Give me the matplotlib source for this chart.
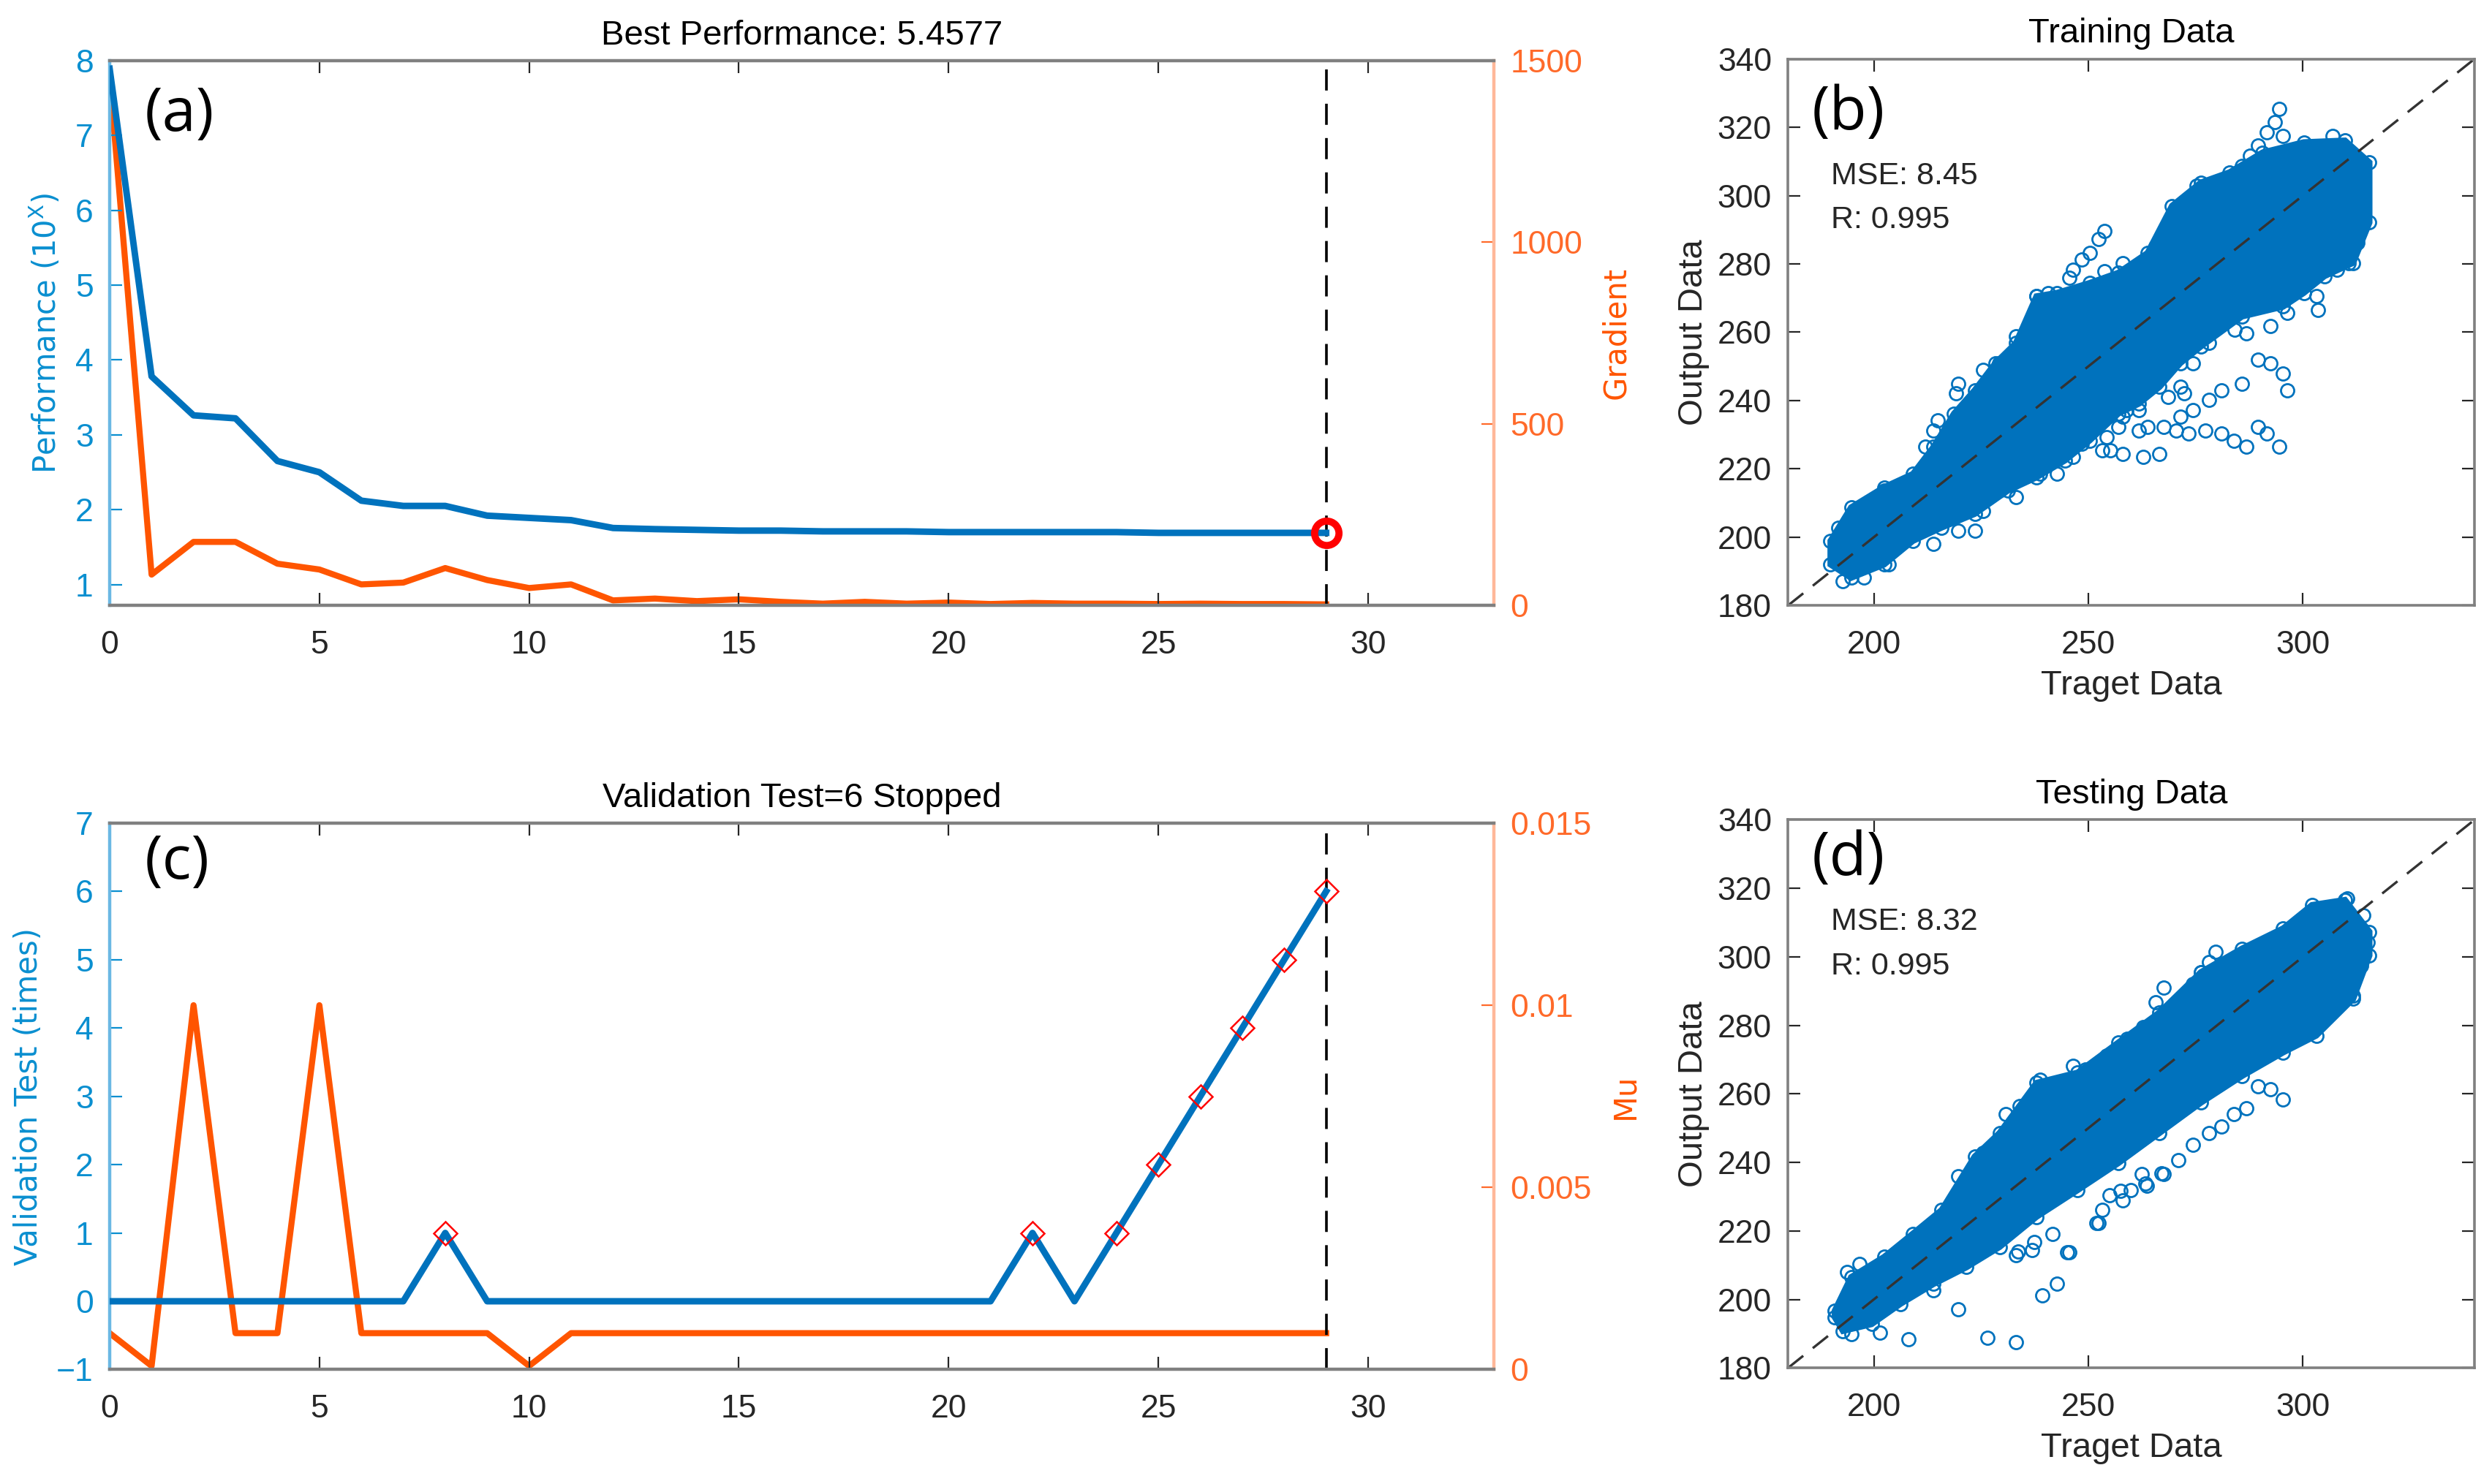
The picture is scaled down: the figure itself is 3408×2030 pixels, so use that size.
import matplotlib.pyplot as plt

plt.rcParams['font.family'] = ['Liberation Sans', 'DejaVu Sans']

# ---- (a) training performance ----
epochs = list(range(30))
perf = [7.89, 3.78, 3.26, 3.22, 2.65, 2.50, 2.12, 2.05, 2.05, 1.92,
        1.89, 1.86, 1.755, 1.74, 1.73, 1.72, 1.72, 1.71, 1.71, 1.71,
        1.70, 1.70, 1.70, 1.70, 1.70, 1.69, 1.69, 1.69, 1.69, 1.69]
grad = [1455, 85, 175, 175, 115, 99, 58, 63, 103, 70,
        48, 58, 14, 19, 12, 17, 10, 5, 10, 5,
        8, 4, 7, 5, 5, 4, 5, 4, 4, 3]
best_epoch = 29

# ---- (c) validation checks / mu ----
val_fail = [0, 0, 0, 0, 0, 0, 0, 0, 1, 0,
            0, 0, 0, 0, 0, 0, 0, 0, 0, 0,
            0, 0, 1, 0, 1, 2, 3, 4, 5, 6]
mu = [0.001, 0.0001, 0.01, 0.001, 0.001, 0.01, 0.001, 0.001, 0.001, 0.001,
      0.0001, 0.001, 0.001, 0.001, 0.001, 0.001, 0.001, 0.001, 0.001, 0.001,
      0.001, 0.001, 0.001, 0.001, 0.001, 0.001, 0.001, 0.001, 0.001, 0.001]
fail_epochs = [8, 22, 24, 25, 26, 27, 28, 29]

# ---- (b) training scatter: outline of the dense cloud + stray points ----
train_up_t = [189.9, 194.7, 202.4, 209.1, 213.9, 218.7, 223.5, 228.3, 233.1, 237.9, 242.7,
              250.3, 257.0, 263.8, 269.5, 276.2, 282.9, 290.6, 300.2, 309.8, 315.5]
train_up_o = [198.9, 208.7, 214.6, 218.5, 226.4, 236.2, 243.0, 250.9, 256.8, 270.5, 271.5,
              274.4, 277.4, 283.2, 297.0, 303.8, 306.8, 312.6, 315.6, 316.1, 309.7]
train_lo_t = [315.5, 311.7, 305.0, 300.2, 295.4, 285.8, 276.2, 271.4, 266.6, 261.8, 257.0,
              250.3, 244.6, 237.9, 231.2, 223.5, 215.8, 209.1, 202.4, 194.7, 189.9]
train_lo_o = [292.1, 280.3, 276.4, 271.5, 267.5, 264.6, 255.8, 250.9, 244.0, 239.1, 236.2,
              228.3, 222.5, 217.5, 213.6, 206.8, 202.8, 198.9, 192.0, 188.1, 192.0]
train_out_x = [294.4, 293.5, 291.6, 295.4, 289.6, 287.7, 285.8, 306.9,
               253.7, 252.3, 250.3, 248.4, 246.5, 245.5, 253.7, 258.0,
               275.3, 273.4, 271.4, 269.0, 265.7, 233.1, 229.2, 225.4, 219.7, 219.2,
               214.9, 213.9, 212.0, 202.4, 195.7, 191.8, 237.9, 240.7,
               313.6, 312.7, 310.7, 307.9, 303.1, 303.5, 296.4, 292.5, 286.8, 284.0,
               278.1, 274.3, 271.4, 268.6, 272.4, 261.8, 258.0, 254.2, 255.1, 248.4,
               246.5, 242.7, 238.8, 233.1, 229.2, 225.4, 223.5, 219.7, 213.9, 203.4,
               197.6, 192.8,
               289.6, 292.5, 295.4, 296.4, 285.8, 281.0, 278.1, 274.3, 271.4, 270.5,
               273.4, 277.2, 281.0, 283.9, 286.8, 289.6, 291.6, 294.5, 266.6, 262.8,
               258.0, 253.2, 261.8, 257.0, 258.9, 263.8, 267.6]
train_out_y = [325.4, 321.5, 318.5, 317.5, 314.6, 311.7, 308.7, 317.5,
               289.6, 287.2, 283.2, 281.3, 278.3, 275.9, 277.8, 280.3,
               302.8, 297.9, 294.0, 290.1, 285.2, 258.7, 250.9, 248.9, 245.0, 242.1,
               234.2, 231.3, 226.4, 213.6, 207.7, 202.8, 270.5, 271.5,
               292.1, 286.2, 280.3, 278.3, 270.5, 266.6, 265.6, 261.7, 259.7, 260.7,
               256.8, 250.9, 244.0, 241.1, 242.1, 237.2, 235.2, 229.3, 225.4, 227.4,
               223.4, 218.5, 218.5, 211.7, 213.6, 207.7, 201.9, 201.9, 198.0, 192.1,
               188.1, 187.2,
               251.9, 250.9, 247.9, 243.0, 245.0, 243.0, 240.1, 237.2, 235.2, 231.3,
               230.3, 231.3, 230.3, 228.3, 226.4, 232.3, 230.3, 226.4, 224.4, 223.4,
               224.4, 225.4, 231.3, 232.3, 237.2, 232.3, 232.3]

# ---- (d) testing scatter ----
test_up_t = [190.9, 194.7, 202.4, 209.1, 215.8, 223.5, 229.3, 237.9, 247.5, 257.0, 266.6,
             276.2, 285.8, 295.4, 302.1, 309.8, 315.5]
test_up_o = [196.7, 206.5, 212.4, 219.2, 226.1, 241.7, 248.6, 263.2, 266.2, 275.0, 283.8,
             295.5, 302.4, 308.3, 315.1, 316.6, 307.3]
test_lo_t = [315.5, 311.7, 303.1, 295.4, 285.8, 276.2, 266.6, 257.0, 247.5, 237.9, 229.3,
             221.6, 213.9, 206.2, 199.5, 192.8, 190.9]
test_lo_o = [300.4, 287.7, 277.0, 272.1, 265.2, 257.4, 248.6, 239.8, 231.9, 224.1, 215.3,
             209.4, 204.5, 198.7, 192.8, 190.8, 194.8]
test_out_x = [233.1, 236.9, 241.7, 245.5, 252.3, 253.3, 258.0, 259.9, 263.3, 267.1,
              270.9, 274.3, 278.1, 281.0, 283.9, 286.8, 289.6, 292.5, 295.4, 213.9,
              201.4, 194.7, 219.7, 208.1, 226.4, 233.1, 239.3, 242.7, 245.1, 251.8,
              193.8, 196.6, 219.7, 225.4, 230.7, 234.0, 238.8, 246.5, 249.4, 254.2,
              259.0, 262.8, 265.7, 267.6, 274.3, 276.2, 278.1, 279.6, 286.8, 301.2,
              310.3, 314.1, 313.6, 315.1, 313.6, 311.7,
              262.5, 267.5, 263.7, 257.5, 255.0, 237.4, 233.6]
test_out_y = [212.9, 214.3, 219.2, 213.8, 222.2, 226.1, 229.0, 231.9, 233.9, 236.8,
              240.7, 245.1, 248.6, 250.5, 254.0, 255.9, 262.3, 261.3, 258.4, 202.6,
              190.2, 189.9, 197.2, 188.4, 188.9, 187.5, 201.1, 204.5, 213.8, 222.2,
              208.0, 210.4, 235.9, 242.7, 254.0, 256.4, 264.2, 268.1, 267.2, 271.1,
              276.0, 279.4, 286.7, 291.1, 292.1, 295.5, 298.5, 301.4, 301.4, 312.2,
              317.1, 312.2, 308.3, 304.3, 297.5, 288.7,
              236.5, 236.5, 233.1, 231.7, 230.4, 216.8, 214.0]

BLUE = '#0072BD'
ORANGE = '#FF5500'
TICK_BLUE = '#0A8FD0'
TICK_ORANGE = '#FF6A2A'
DARK = '#262626'

fig = plt.figure(figsize=(17.04, 10.15), dpi=200)


def dual_axes(rect, title, label_txt):
    ax = fig.add_axes(rect)
    ax2 = ax.twinx()
    ax.set_title(title, fontsize=17, color='black', pad=8)
    ax.set_xlim(0, 33)
    ax.set_xticks([0, 5, 10, 15, 20, 25, 30])
    ax.tick_params(axis='x', direction='in', top=True, length=6, labelsize=16,
                   colors=DARK, pad=12)
    ax.tick_params(axis='y', direction='in', length=6, labelsize=16,
                   colors=TICK_BLUE, pad=8)
    ax2.tick_params(axis='y', direction='in', length=6, labelsize=16,
                    colors=TICK_ORANGE, pad=8)
    for s in ['top', 'bottom']:
        ax.spines[s].set_color('#808080')
        ax.spines[s].set_linewidth(1.6)
    ax.spines['left'].set_color('#6BB8E4')
    ax.spines['left'].set_linewidth(1.6)
    ax.spines['right'].set_visible(False)
    for s in ['top', 'bottom', 'left']:
        ax2.spines[s].set_visible(False)
    ax2.spines['right'].set_color('#FFB899')
    ax2.spines['right'].set_linewidth(1.6)
    ax.text(0.025, label_txt[1], label_txt[0], transform=ax.transAxes,
            fontsize=30, family='Open Sans', va='center', ha='left')
    return ax, ax2


# (a)
ax, ax2 = dual_axes([0.044, 0.592, 0.5555, 0.3672], 'Best Performance: 5.4577', ('(a)', 0.90))
ax2.plot(epochs, grad, color=ORANGE, lw=3, solid_joinstyle='round')
ax.plot(epochs, perf, color=BLUE, lw=3.2, solid_joinstyle='round', zorder=3)
ax.set_zorder(ax2.get_zorder() + 1)
ax.patch.set_visible(False)
ax.plot([best_epoch], [perf[best_epoch]], 'o', ms=12, mfc='none', mec='red', mew=3.5, zorder=4)
ax.axvline(best_epoch, color='black', lw=1.3, ls=(0, (8, 5)), zorder=2)
ax.set_ylim(0.72, 8)
ax.set_yticks(range(1, 9))
ax2.set_ylim(0, 1500)
ax2.set_yticks([0, 500, 1000, 1500])
ax.set_ylabel(r'Performance (10$^{\rm X}$)', family='DejaVu Sans', fontsize=15,
              color=TICK_BLUE, labelpad=6)
ax2.set_ylabel('Gradient', family='DejaVu Sans', fontsize=15, color=ORANGE, labelpad=9)

# (c)
ax, ax2 = dual_axes([0.044, 0.0771, 0.5555, 0.3683], 'Validation Test=6 Stopped', ('(c)', 0.927))
ax2.plot(epochs, mu, color=ORANGE, lw=3, solid_joinstyle='round')
ax.plot(epochs, val_fail, color=BLUE, lw=3.2, solid_joinstyle='round', zorder=3)
ax.set_zorder(ax2.get_zorder() + 1)
ax.patch.set_visible(False)
ax.plot(fail_epochs, [val_fail[e] for e in fail_epochs], 'D', ms=8, mfc='none',
        mec='red', mew=0.9, zorder=4)
ax.axvline(best_epoch, color='black', lw=1.3, ls=(0, (8, 5)), zorder=2)
ax.set_ylim(-1, 7)
ax.set_yticks(range(-1, 8))
ax2.set_ylim(0, 0.015)
ax2.set_yticks([0, 0.005, 0.01, 0.015])
ax2.set_yticklabels(['0', '0.005', '0.01', '0.015'])
ax.set_ylabel('Validation Test (times)', family='DejaVu Sans', fontsize=15,
              color=TICK_BLUE, labelpad=6)
ax2.set_ylabel('Mu', family='DejaVu Sans', fontsize=15, color=ORANGE, labelpad=9)


# scatter panels
def scatter_panel(rect, title, tag, tag_y, mse, up_t, up_o, lo_t, lo_o, ox, oy):
    ax = fig.add_axes(rect)
    ax.fill(up_t + lo_t, up_o + lo_o, color=BLUE, lw=3, zorder=1)
    ring = dict(ls='none', marker='o', ms=6.5, mfc='none', mec=BLUE, mew=1.0, zorder=1)
    ax.plot(up_t, up_o, **ring)
    ax.plot(lo_t, lo_o, **ring)
    ax.plot(ox, oy, **ring)
    ax.plot([180, 340], [180, 340], color='#333333', lw=1.2, ls=(0, (8, 5)), zorder=2)
    ax.set_xlim(180, 340)
    ax.set_ylim(180, 340)
    ax.set_xticks([200, 250, 300])
    ax.set_yticks(range(180, 341, 20))
    ax.tick_params(direction='in', top=True, right=True, length=6, labelsize=16,
                   colors=DARK, pad=8)
    ax.tick_params(axis='x', pad=12)
    for s in ax.spines.values():
        s.set_color('#808080')
        s.set_linewidth(1.3)
    ax.set_title(title, fontsize=17, pad=8)
    ax.set_xlabel('Traget Data', fontsize=17, color=DARK, labelpad=5)
    ax.set_ylabel('Output Data', fontsize=17, color=DARK, labelpad=4)
    ax.text(0.035, tag_y, tag, transform=ax.transAxes, fontsize=30,
            family='Open Sans', va='center', ha='left')
    ax.text(0.0625, tag_y - 0.114, 'MSE: ' + mse, transform=ax.transAxes,
            fontsize=15.5, va='center', color=DARK)
    ax.text(0.0625, tag_y - 0.195, 'R: 0.995', transform=ax.transAxes,
            fontsize=15.5, va='center', color=DARK)


scatter_panel([0.7175, 0.592, 0.2755, 0.3683], 'Training Data', '(b)', 0.90, '8.45',
              train_up_t, train_up_o, train_lo_t, train_lo_o, train_out_x, train_out_y)
scatter_panel([0.7175, 0.0782, 0.2755, 0.3694], 'Testing Data', '(d)', 0.928, '8.32',
              test_up_t, test_up_o, test_lo_t, test_lo_o, test_out_x, test_out_y)

fig.savefig('out.png', dpi=200)
